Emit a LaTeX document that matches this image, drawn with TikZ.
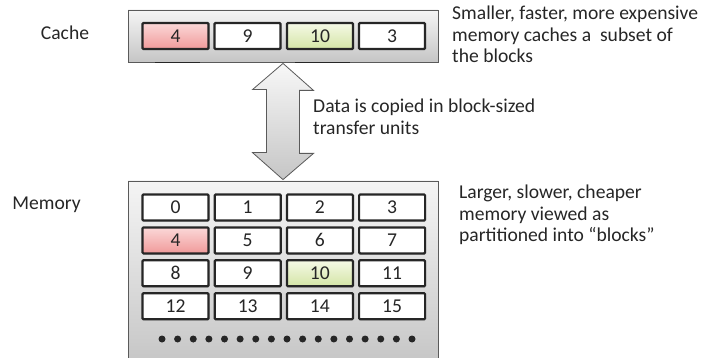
\documentclass[tikz,border=0pt]{standalone}
\usepackage{fontspec}
\setmainfont{Carlito}
\usetikzlibrary{shadows}
\definecolor{inktext}{HTML}{262626}
\definecolor{panelline}{HTML}{5A5A5A}
\definecolor{redtop}{HTML}{FBD8D8}
\definecolor{redbot}{HTML}{F09A9A}
\definecolor{greentop}{HTML}{F5F9E6}
\definecolor{greenbot}{HTML}{D4E5A6}
\begin{document}
\begin{tikzpicture}[x=1pt,y=-1pt,
  txt/.style={font=\fontsize{19.6}{21.5}\selectfont, text=inktext, inner sep=0pt},
  note/.style={txt, align=left, anchor=north west},
  panel/.style={draw=panelline, line width=0.8pt, top color=gray!8, bottom color=gray!45,
    inner sep=0pt},
  cell/.style={draw=black!85, line width=2.2pt, rounded corners=1pt, fill=white,
    minimum width=66pt, minimum height=26pt, inner sep=0pt,
    font=\fontsize{19.6}{21}\selectfont, text=inktext,
    drop shadow={shadow xshift=1pt, shadow yshift=-1.2pt, opacity=0.3}},
  hitred/.style={top color=redtop, bottom color=redbot},
  hitgreen/.style={top color=greentop, bottom color=greenbot},
  bigarrow/.style={draw=panelline, line width=0.8pt, top color=gray!6, bottom color=gray!45, line join=miter},
  dot/.style={fill=black!85}
]
\useasboundingbox (0,0) rectangle (717,358);
\clip (0,0) rectangle (717,358);

% the two storage panels
\node[panel, minimum width=310pt, minimum height=52pt] (cache) at (283,36) {};
\node[panel, minimum width=310pt, minimum height=184pt] (mem) at (283,273) {};

% cache blocks
\node[cell, hitred]   (c1) at (175.5,36) {4};
\node[cell]           (c2) at (247.5,36) {9};
\node[cell, hitgreen] (c3) at (320,36)   {10};
\node[cell]           (c4) at (392,36)   {3};

% dark marks on the cache panel's lower edge
\draw[line width=1.6pt, black!85] ([xshift=-20.5pt]c1.south |- cache.south) -- ([xshift=24.5pt]c1.south |- cache.south);
\draw[line width=1.6pt, black!85] ([xshift=-25pt]c3.south |- cache.south) -- ([xshift=30pt]c3.south |- cache.south);

% memory blocks
\foreach \n/\col/\row/\sty in {0/0/0/,1/1/0/,2/2/0/,3/3/0/,
                               4/0/1/hitred,5/1/1/,6/2/1/,7/3/1/,
                               8/0/2/,9/1/2/,10/2/2/hitgreen,11/3/2/,
                               12/0/3/,13/1/3/,14/2/3/,15/3/3/}
  \node[cell, \sty] (m\n) at ({175.5+72.2*\col},{207.5+32.9*\row}) {\n};

% continuation dots
\foreach \i in {0,...,16}
  \fill[dot] ({162+15.625*\i},339) circle (3.5pt);

% transfer arrow between the panels
\coordinate (atop) at ([yshift=-1pt]cache.south);
\coordinate (abot) at ([yshift=1pt]mem.north);
\draw[bigarrow] (atop) -- ++(30.5,27) -- ++(-14,0) -- ++(0,63) -- ++(14,0) -- (abot)
  -- ++(-30.5,-27) -- ++(14,0) -- ++(0,-63) -- ++(-14,0) -- cycle;

% labels
\node[txt] (cachelabel) at (65,33) {Cache};
\node[txt] (memlabel) at (46.5,205) {Memory};
\node[note] (cachenote) at (452,6) {Smaller, faster, more expensive\\memory caches a\ \ subset of\\the blocks};
\node[note] (copynote) at (313,99) {Data is copied in block-sized\\transfer units};
\node[note] (memnote) at (459,185) {Larger, slower, cheaper\\memory viewed as\\partitioned into “blocks”};
\end{tikzpicture}
\end{document}
